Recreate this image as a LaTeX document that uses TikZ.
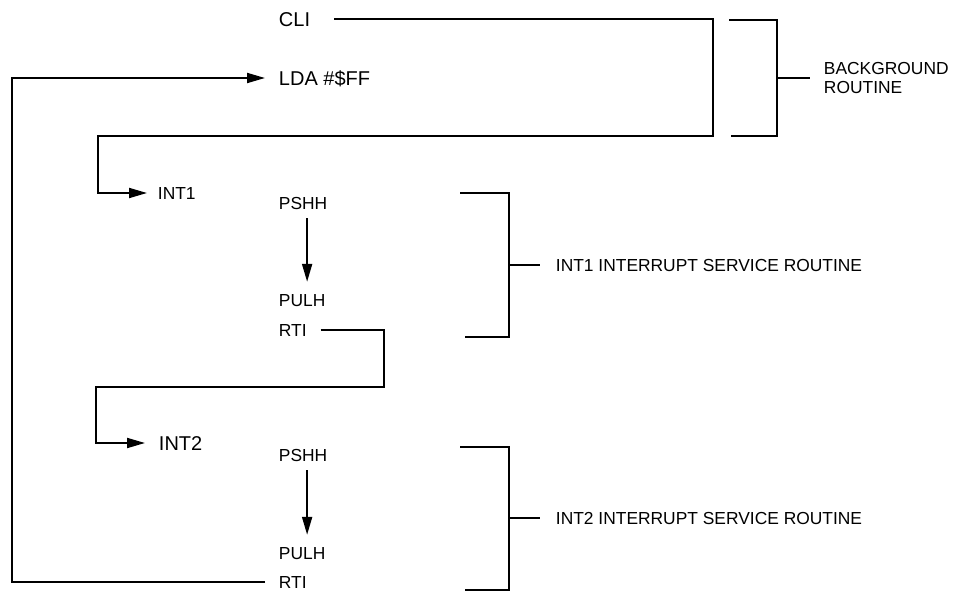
\documentclass[tikz,border=0pt]{standalone}
\usepackage{fontspec}
\setmainfont{Liberation Sans}
\usepackage{tikz}
\usetikzlibrary{arrows.meta,positioning}

\tikzset{
  big/.style={font=\fontsize{20}{24}\selectfont, text height=14.3pt, text depth=0pt},
  small/.style={font=\fontsize{17.4}{19}\selectfont, text height=12.5pt, text depth=0pt},
  arr/.style={-{Triangle[length=18pt,width=10pt]}},
}

\begin{document}
\begin{tikzpicture}[x=1pt,y=-1pt,line width=1.9pt]
\useasboundingbox (0,0) rectangle (959,594);
\begin{scope}[every node/.style={inner sep=0pt,anchor=west}]
	\node[big] (cli) at (278,19) {CLI};
	\node[big] (lda) at (278,78) {LDA \#\$FF};
	\node[small] (int1) at (157,193) {INT1};
	\node[small] (pshhA) at (278,203) {PSHH};
	\node[small] (pulhA) at (278,300) {PULH};
	\node[small] (rtiA) at (278,330) {RTI};
	\node[big] (int2) at (158,443) {INT2};
	\node[small] (pshhB) at (278,455) {PSHH};
	\node[small] (pulhB) at (278,553) {PULH};
	\node[small] (rtiB) at (278,582) {RTI};

	\node[font=\fontsize{17.4}{19}\selectfont, align=left] (bgtext) at (823,78) {BACKGROUND\\ROUTINE};
	\node[small] (isrA) at (555,265) {INT1 INTERRUPT SERVICE ROUTINE};
	\node[small] (isrB) at (555,518) {INT2 INTERRUPT SERVICE ROUTINE};
\end{scope}

% corners of the jumps
\coordinate (jumpA) at (713,136);
\coordinate (jumpB) at (98,136);
\coordinate (jumpC) at (384,387);
\coordinate (jumpD) at (96,387);
\coordinate (loopx) at (12,0);

\begin{scope}
	\draw[arr, shorten <=23pt, shorten >=10pt] (cli.east) -| (jumpA) -- (jumpB) |- (int1.west);
	\draw[arr, shorten <=13pt, shorten >=13pt] (rtiA.east) -| (jumpC) -- (jumpD) |- (int2.west);
	\draw[arr, shorten <=13pt, shorten >=13pt] (rtiB.west) -| (loopx |- lda.west) -- (lda.west);
	\draw[arr, shorten <=8pt, shorten >=11pt] ([xshift=4pt]pshhA.south) -- ([xshift=4pt]pshhA.south |- pulhA.north);
	\draw[arr, shorten <=8pt, shorten >=11pt] ([xshift=4pt]pshhB.south) -- ([xshift=4pt]pshhB.south |- pulhB.north);

	% brackets
	\draw (729,20) -- (777,20) -- (777,136) -- (731,136);
	\draw[shorten >=13pt] (777,78) -- (bgtext.west);
	\draw (460,193) -- (509,193) -- (509,337) -- (465,337);
	\draw[shorten >=15pt] (509,265) -- (isrA.west);
	\draw (460,447) -- (509,447) -- (509,590) -- (465,590);
	\draw[shorten >=15pt] (509,518) -- (isrB.west);
\end{scope}
\end{tikzpicture}
\end{document}
